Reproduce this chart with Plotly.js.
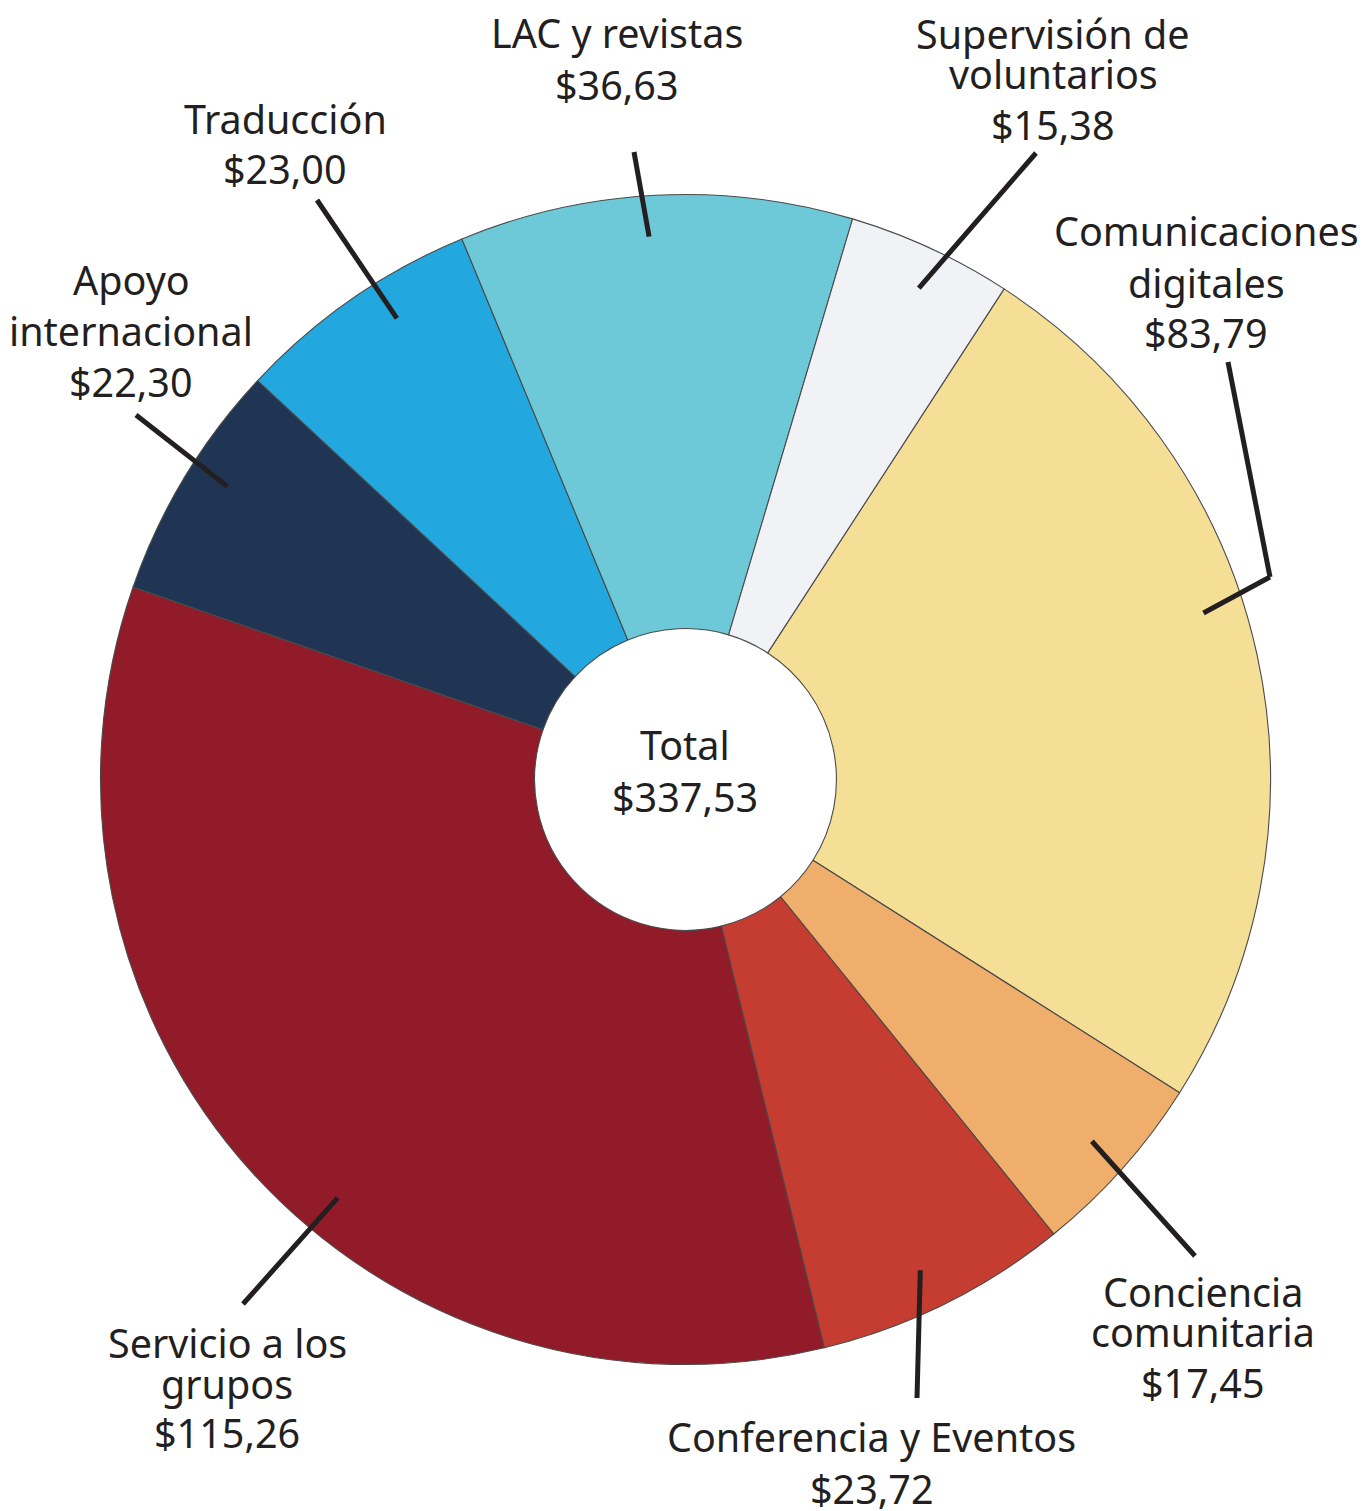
<!DOCTYPE html>
<html>
<head>
<meta charset="utf-8">
<script src="https://cdn.plot.ly/plotly-3.0.1.min.js"></script>
<style>html,body{margin:0;padding:0;background:#ffffff;}</style>
</head>
<body>
<div id="chart" style="width:1363px;height:1511px;"></div>
<script>
// ---- DATA ----
const categories = ['Comunicaciones digitales', 'Conciencia comunitaria', 'Conferencia y Eventos',
  'Servicio a los grupos', 'Apoyo internacional', 'Traducción', 'LAC y revistas', 'Supervisión de voluntarios'];
const values = [83.79, 17.45, 23.72, 115.26, 22.30, 23.00, 36.63, 15.38];
const labelLines = [['Comunicaciones', 'digitales'], ['Conciencia', 'comunitaria'], ['Conferencia y Eventos'],
  ['Servicio a los', 'grupos'], ['Apoyo', 'internacional'], ['Traducción'], ['LAC y revistas'], ['Supervisión de', 'voluntarios']];
const totalLabel = 'Total';

// ---- STYLE / LAYOUT ----
const colors = ['#F5DF97', '#F0AE6C', '#C43D30', '#921B2A', '#203554', '#22A7DE', '#6DC9D7', '#F0F2F5'];
const W = 1363, H = 1511;
const CX = 685.5, CY = 779.5, R = 585;
const HOLE = 0.258;
const ROTATION = 33;
const FONT = 'Noto Sans, Lato, sans-serif';
const FS = 39.5;
const TXT = '#231F20';
// label text centre x and line centre y's (px)
const labelPos = [
  {x: 1206, ys: [231, 283, 333]},
  {x: 1203, ys: [1292, 1332, 1383]},
  {x: 872, ys: [1437, 1489]},
  {x: 227, ys: [1343, 1384, 1433]},
  {x: 131, ys: [280, 331, 382]},
  {x: 285, ys: [119, 169]},
  {x: 617, ys: [33, 85]},
  {x: 1053, ys: [34, 74, 125]}
];
// leader line route after the start point (px)
const leaderRoute = [
  [[1270, 577], [1228, 362]],
  [[1195, 1256]],
  [[917, 1398]],
  [[243, 1304]],
  [[136, 415]],
  [[317, 200]],
  [[634, 152]],
  [[1036, 153]]
];
const angleNudge = [-5.5, 0, 0.8, -8, 1.5, 2.7, -0.9, 0.6];
const startR = 0.93;

function fmt(v) { return '$' + v.toFixed(2).replace('.', ','); }
const px = x => x / W;
const py = y => 1 - y / H;

const total = values.reduce((a, b) => a + b, 0);

const trace = {
  type: 'pie',
  labels: categories,
  values: values,
  sort: false,
  direction: 'clockwise',
  rotation: ROTATION,
  hole: HOLE,
  textinfo: 'none',
  hoverinfo: 'label+value',
  marker: {colors: colors, line: {color: '#4a4a4a', width: 1.1}},
  domain: {x: [px(CX - R), px(CX + R)], y: [py(CY + R), py(CY - R)]},
  showlegend: false
};

const annotations = [];
const shapes = [];
let cum = 0;
values.forEach((v, i) => {
  const mid = ROTATION + (cum + v / 2) / total * 360 + angleNudge[i];
  cum += v;
  const a = mid * Math.PI / 180;
  const sx = CX + startR * R * Math.sin(a);
  const sy = CY - startR * R * Math.cos(a);
  let prev = [sx, sy];
  leaderRoute[i].forEach(p => {
    shapes.push({type: 'line', xref: 'paper', yref: 'paper',
      x0: px(prev[0]), y0: py(prev[1]), x1: px(p[0]), y1: py(p[1]),
      line: {color: TXT, width: 5}});
    prev = p;
  });
  const lines = labelLines[i].concat([fmt(v)]);
  lines.forEach((t, k) => {
    annotations.push({xref: 'paper', yref: 'paper', x: px(labelPos[i].x), y: py(labelPos[i].ys[k]),
      xanchor: 'center', yanchor: 'middle', showarrow: false, text: t,
      font: {family: FONT, size: FS, color: TXT}});
  });
});
// centre total
[[totalLabel, 745], [fmt(total), 797]].forEach(([t, y]) => {
  annotations.push({xref: 'paper', yref: 'paper', x: px(CX), y: py(y), xanchor: 'center', yanchor: 'middle',
    showarrow: false, text: t, font: {family: FONT, size: FS, color: TXT}});
});

const layout = {
  width: W, height: H,
  margin: {l: 0, r: 0, t: 0, b: 0},
  paper_bgcolor: '#ffffff',
  annotations: annotations,
  shapes: shapes,
  showlegend: false
};
Plotly.newPlot('chart', [trace], layout, {displayModeBar: false, staticPlot: true});
</script>
</body>
</html>
